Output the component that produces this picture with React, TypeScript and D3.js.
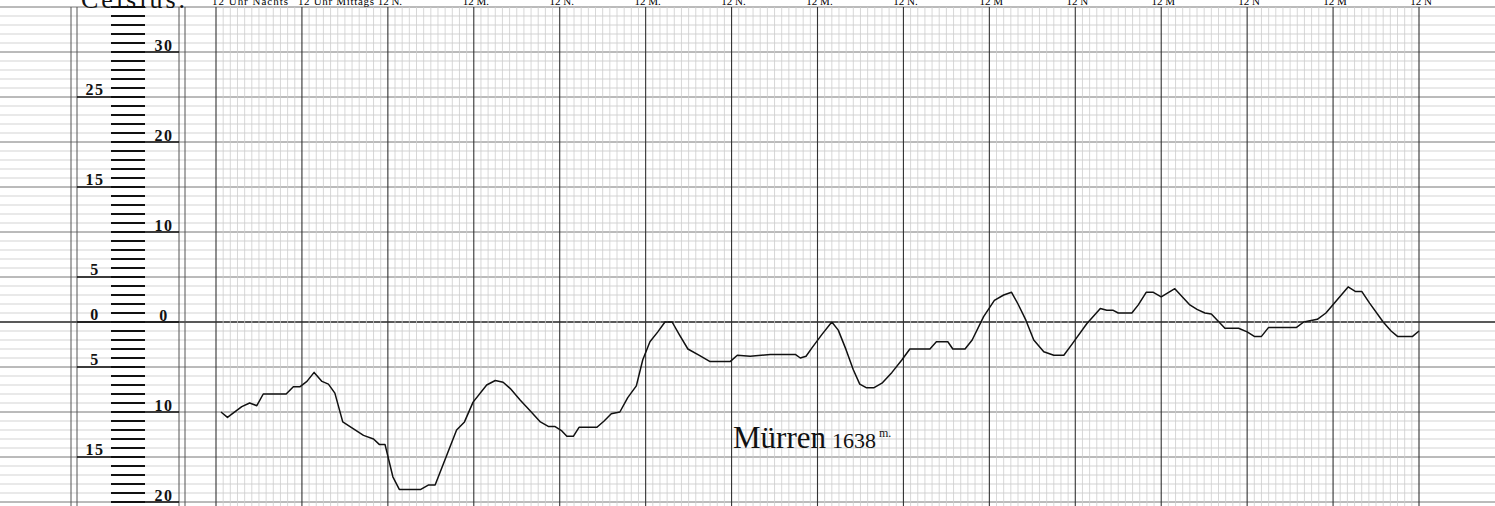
import { useRef, useEffect } from "react";
import * as d3 from "d3";

const width = 1495;
const height = 506;

// hours after the first midnight, and temperature in degrees Celsius
const hours = [
  0.7, 1.6, 3.6, 4.7, 5.7, 6.6, 9.8, 10.8, 11.7, 12.7, 13.7, 14.8, 15.7, 16.6,
  17.7, 20.6, 22.0, 22.8, 23.6, 24.7, 25.6, 28.6, 29.7, 30.6, 33.6, 34.7, 35.9,
  37.8, 39.0, 40.1, 41.1, 42.5, 43.9, 45.3, 46.4, 47.3, 48.3, 49.0, 49.9, 50.7,
  53.2, 54.2, 55.2, 56.4, 57.5, 58.7, 59.6, 60.6, 61.7, 62.7, 63.7, 64.7, 65.9,
  67.5, 69.0, 71.8, 72.8, 74.6, 77.4, 80.9, 81.6, 82.4, 83.2, 84.6, 86.0, 86.9,
  88.0, 89.0, 89.9, 90.8, 91.9, 93.0, 94.4, 95.8, 96.9, 99.7, 100.6, 102.2,
  102.9, 104.6, 105.6, 107.2, 108.7, 110.0, 111.1, 112.0, 113.1, 114.2, 115.6,
  117.0, 118.4, 119.6, 121.6, 123.5, 124.4, 125.3, 126.0, 127.9, 128.8, 129.9,
  130.9, 132.0, 133.9, 136.0, 137.0, 138.1, 139.0, 140.9, 142.8, 144.0, 145.0,
  146.0, 147.0, 150.9, 151.9, 153.8, 155.0, 158.1, 159.1, 160.0, 161.1, 163.0,
  164.1, 165.0, 167.1, 168.0,
];
const temps = [
  -10.0, -10.6, -9.4, -9.0, -9.3, -8.0, -8.0, -7.2, -7.2, -6.6, -5.6, -6.6,
  -6.9, -7.9, -11.1, -12.6, -13.0, -13.6, -13.6, -17.2, -18.6, -18.6, -18.1,
  -18.1, -12.0, -11.1, -8.9, -7.0, -6.5, -6.7, -7.4, -8.7, -9.9, -11.1, -11.6,
  -11.6, -12.1, -12.7, -12.7, -11.7, -11.7, -11.0, -10.2, -10.0, -8.4, -7.1,
  -4.2, -2.2, -1.1, 0.0, 0.0, -1.4, -3.0, -3.7, -4.4, -4.4, -3.7, -3.8, -3.6,
  -3.6, -4.0, -3.8, -2.9, -1.4, 0.0, -0.9, -3.1, -5.3, -6.9, -7.3, -7.3, -6.8,
  -5.6, -4.2, -3.0, -3.0, -2.2, -2.2, -3.0, -3.0, -2.0, 0.6, 2.4, 3.0, 3.3,
  2.0, 0.2, -2.0, -3.3, -3.7, -3.7, -2.4, -0.2, 1.5, 1.3, 1.3, 1.0, 1.0, 1.9,
  3.3, 3.3, 2.8, 3.7, 1.9, 1.4, 1.0, 0.9, -0.7, -0.7, -1.1, -1.6, -1.6, -0.6,
  -0.6, 0.0, 0.3, 1.0, 3.9, 3.4, 3.4, 2.1, 0.0, -1.0, -1.6, -1.6, -1.0,
];

const timeTicks = d3.range(0, 169, 12);
const timeLabels = [
  "12 Uhr Nachts", "12 Uhr Mittags", "12 N.", "12 M.", "12 N.", "12 M.",
  "12 N.", "12 M.", "12 N.", "12 M", "12 N", "12 M", "12 N", "12 M", "12 N",
];
const leftScaleLabels = [25, 15, 5, 0, -5, -15];
const rightScaleLabels = [30, 20, 10, 0, -10, -20];

export default function App() {
  const ref = useRef<SVGSVGElement | null>(null);

  useEffect(() => {
    const svg = d3
      .select(ref.current)
      .attr("width", width)
      .attr("height", height)
      .attr("viewBox", `0 0 ${width} ${height}`);

    svg.selectAll("*").remove();

    const x = d3.scaleLinear().domain([0, 168]).range([216, 1419]);
    const y = d3.scaleLinear().domain([35, -20]).range([7, 502]);

    svg.append("rect").attr("width", width).attr("height", height).attr("fill", "#fff");

    // horizontal rules, one per degree
    const degrees = d3.range(-20, 36);
    svg
      .append("g")
      .selectAll("line")
      .data(degrees)
      .join("line")
      .attr("x1", 0)
      .attr("x2", width)
      .attr("y1", (d) => y(d))
      .attr("y2", (d) => y(d))
      .attr("stroke", (d) => (d === 0 ? "#222" : d % 5 === 0 ? "#777" : "#c8c8c8"))
      .attr("stroke-width", (d) => (d === 0 ? 1.4 : d % 5 === 0 ? 1 : 0.8));

    // hourly vertical rules
    svg
      .append("g")
      .selectAll("line")
      .data(d3.range(0, 169))
      .join("line")
      .attr("x1", (d) => x(d))
      .attr("x2", (d) => x(d))
      .attr("y1", y(35))
      .attr("y2", height)
      .attr("stroke", (d) => (d % 12 === 0 ? "#333" : "#cdcdcd"))
      .attr("stroke-width", (d) => (d % 12 === 0 ? 1.1 : 0.8));

    // frame of the scale block
    [71, 77, 179, 185].forEach((vx) => {
      svg
        .append("line")
        .attr("x1", vx)
        .attr("x2", vx)
        .attr("y1", y(35))
        .attr("y2", height)
        .attr("stroke", "#555")
        .attr("stroke-width", 1);
    });

    // ruler ticks
    svg
      .append("g")
      .selectAll("line")
      .data(degrees)
      .join("line")
      .attr("x1", 111)
      .attr("x2", 145)
      .attr("y1", (d) => y(d))
      .attr("y2", (d) => y(d))
      .attr("stroke", "#111")
      .attr("stroke-width", 1.8);

    // underlines in the label columns
    svg
      .append("g")
      .selectAll("line")
      .data(leftScaleLabels)
      .join("line")
      .attr("x1", 77)
      .attr("x2", 111)
      .attr("y1", (d) => y(d))
      .attr("y2", (d) => y(d))
      .attr("stroke", "#111")
      .attr("stroke-width", 1.5);
    svg
      .append("g")
      .selectAll("line")
      .data(rightScaleLabels)
      .join("line")
      .attr("x1", 145)
      .attr("x2", 179)
      .attr("y1", (d) => y(d))
      .attr("y2", (d) => y(d))
      .attr("stroke", "#111")
      .attr("stroke-width", 1.5);

    const labelStyle = (sel: any) =>
      sel
        .attr("font-family", "'Liberation Serif', serif")
        .attr("font-weight", "bold")
        .attr("font-size", 16)
        .attr("letter-spacing", 1.5)
        .attr("text-anchor", "middle")
        .attr("fill", "#111");

    svg
      .append("g")
      .selectAll("text")
      .data(leftScaleLabels)
      .join("text")
      .call(labelStyle)
      .attr("x", 95)
      .attr("y", (d) => y(d) - 2)
      .text((d) => Math.abs(d));
    svg
      .append("g")
      .selectAll("text")
      .data(rightScaleLabels)
      .join("text")
      .call(labelStyle)
      .attr("x", 164)
      .attr("y", (d) => y(d) - 1)
      .text((d) => Math.abs(d));

    // header
    svg
      .append("text")
      .attr("x", 81)
      .attr("y", 8)
      .attr("font-family", "'Liberation Serif', serif")
      .attr("font-size", 26)
      .attr("letter-spacing", 3)
      .attr("fill", "#111")
      .text("Celsius.");

    svg
      .append("g")
      .selectAll("text")
      .data(timeTicks)
      .join("text")
      .attr("x", (d, i) => (i < 2 ? x(d) - 4 : x(d) + 2))
      .attr("y", 5)
      .attr("font-family", "'Liberation Serif', serif")
      .attr("font-size", 11)
      .attr("text-anchor", (d, i) => (i < 2 ? "start" : "middle"))
      .attr("textLength", (d, i) => (i < 2 ? 76 : null))
      .attr("fill", "#000")
      .text((d, i) => timeLabels[i]);

    // temperature curve
    const points = hours.map((h, i) => [h, temps[i]] as [number, number]);
    const line = d3
      .line<[number, number]>()
      .x((d) => x(d[0]))
      .y((d) => y(d[1]));
    svg
      .append("path")
      .datum(points)
      .attr("fill", "none")
      .attr("stroke", "#111")
      .attr("stroke-width", 1.5)
      .attr("stroke-linejoin", "round")
      .attr("d", line);

    // station name
    const title = svg
      .append("text")
      .attr("x", 733)
      .attr("y", 448)
      .attr("font-family", "'Liberation Serif', serif")
      .attr("fill", "#111");
    title.append("tspan").attr("font-size", 31).text("Mürren");
    title.append("tspan").attr("font-size", 22).attr("dx", 6).text("1638");
    title
      .append("tspan")
      .attr("font-size", 12)
      .attr("dx", 3)
      .attr("dy", -11)
      .text("m.");
  }, []);

  return <svg ref={ref} style={{ position: "absolute", left: 0, top: 0 }} />;
}
